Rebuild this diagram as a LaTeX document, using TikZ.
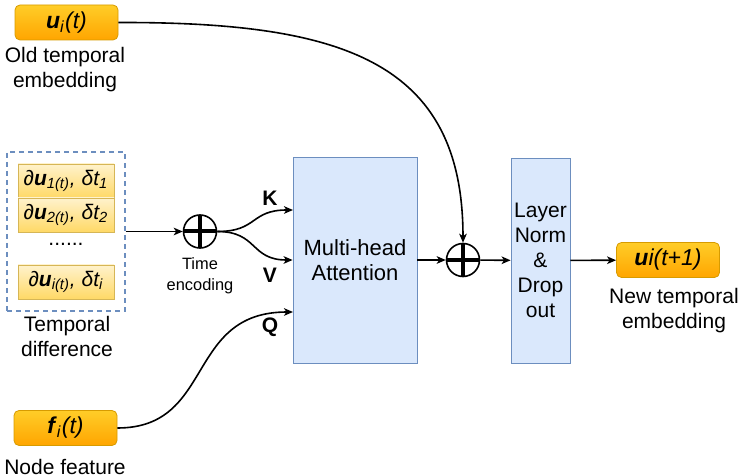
\documentclass[tikz,border=0pt]{standalone}
\usepackage{fontspec}
\setmainfont{Liberation Sans}
\usetikzlibrary{shapes,arrows.meta}
\definecolor{embtop}{HTML}{FFCD28}
\definecolor{embbot}{HTML}{FFA500}
\definecolor{embline}{HTML}{D79B00}
\definecolor{difftop}{HTML}{FFF2CC}
\definecolor{diffbot}{HTML}{FFD966}
\definecolor{diffline}{HTML}{D6B656}
\definecolor{blockfill}{HTML}{DAE8FC}
\definecolor{blockline}{HTML}{6C8EBF}
\newcommand{\bu}{\textbf{\textit{u}}}
\begin{document}
\begin{tikzpicture}[x=0.5pt,y=-0.5pt,
      every node/.style={font=\fontsize{10.5}{12.5}\selectfont,align=center},
      emb/.style={rectangle,rounded corners=2.5pt,draw=embline,top color=embtop,bottom color=embbot,
        minimum width=51.5pt,minimum height=17.5pt,inner sep=0pt,font=\fontsize{11.5}{13}\selectfont},
      diff/.style={rectangle,draw=diffline,top color=difftop,bottom color=diffbot,
        minimum width=48pt,minimum height=17pt,inner sep=0pt,font=\fontsize{10.5}{12}\selectfont},
      block/.style={rectangle,draw=blockline,fill=blockfill,inner sep=0pt},
      plus/.style={circle,draw,line width=0.8pt,minimum size=16.5pt,inner sep=0pt,
        path picture={\draw[line width=2pt] (path picture bounding box.north) -- (path picture bounding box.south)
          (path picture bounding box.west) -- (path picture bounding box.east);}},
      lbl/.style={font=\fontsize{10.5}{12}\bfseries},
      link/.style={-{Stealth[length=4.5pt,width=3.8pt,inset=1.2pt]},line width=0.8pt}]
      \useasboundingbox (0,0) rectangle (741,476);
      % inputs
      \node[emb] (uold) at (66.5,22.5) {\bu\textsubscript{\textit{i}}\textit{(t)}};
      \node (uoldlbl) at (65,69.5) {Old temporal\\embedding};
      \node[draw=blockline,line width=0.6pt,dash pattern=on 2.5pt off 2pt,minimum width=59pt,minimum height=79.5pt,inner sep=0pt] (tdiff) at (66,231.5) {};
      \node[diff] (d1) at (66,181) {\textit{∂\bu\textsubscript{1(t)}, δt\textsubscript{1}}};
      \node[diff] (d2) at (66,215) {\textit{∂\bu\textsubscript{2(t)}, δt\textsubscript{2}}};
      \node (dots) at (66,244) {......};
      \node[diff] (di) at (66,282) {\textit{∂\bu\textsubscript{i(t)}, δt\textsubscript{i}}};
      \node (tdifflbl) at (67,336) {Temporal\\difference};
      \node[emb] (feat) at (65.5,428) {\textbf{\textit{f}}\textsubscript{\textit{i}}\textit{(t)}};
      \node (featlbl) at (65,467) {Node feature};
      % time encoding
      \node[plus] (tenc) at (200,231.5) {};
      \node[font=\fontsize{8.2}{10.5}\selectfont] (tenclbl) at (200,276) {Time\\encoding};
      % attention and norm
      \node[block,minimum width=62pt,minimum height=103pt,font=\fontsize{11}{12.5}\selectfont] (attn) at (355,260) {Multi-head\\Attention};
      \node[plus] (add) at (463,260) {};
      \node[block,minimum width=29.5pt,minimum height=102.5pt] (norm) at (540.5,260.5) {Layer\\Norm\\\&\\Drop\\out};
      \node[emb] (unew) at (668,260) {\bu\textit{i(t+1)}};
      \node (unewlbl) at (674,310.5) {New temporal\\embedding};
      \coordinate (kin) at (293,210);
      \coordinate (qin) at (293,312);
      % connectors
      \draw[link] (tdiff) -- (tenc);
      \draw[link] (tenc.east) .. controls (258,231.5) and (250,210) .. (kin);
      \draw[link] (tenc.east) .. controls (258,231.5) and (250,260) .. (attn.west);
      \draw[link] (feat.east) .. controls (215,428) and (185,312) .. (qin);
      \node[lbl] (klbl) at (270,198) {K};
      \node[lbl] (vlbl) at (270,275) {V};
      \node[lbl] (qlbl) at (270,327) {Q};
      \draw[link] (uold.east) .. controls (340,22) and (463,60) .. (add.north);
      \draw[link] (attn) -- (add);
      \draw[link] (add) -- (norm);
      \draw[link] (norm) -- (unew);
\end{tikzpicture}
\end{document}
